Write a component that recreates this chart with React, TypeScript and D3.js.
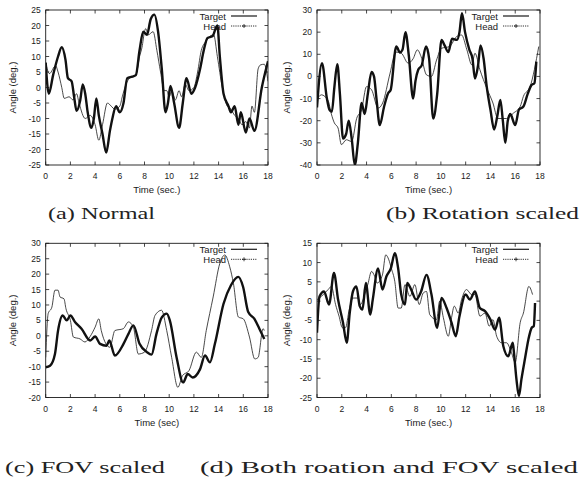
import React from 'react';
import * as d3 from 'd3';

// [time (s), angle (deg)]
const normalTarget: [number, number][] = [
  [0, 8], [0.3, 4.5], [0.8, 7], [1.0, 5], [1.3, 0], [1.5, -3.5], [1.9, -3], [2.2, -4], [2.5, -2], [2.7, -5],
  [3.2, -10], [3.6, -9], [4.0, -12], [4.3, -17], [4.6, -12], [5.0, -5], [5.3, -6], [5.6, -7], [6.0, -6],
  [6.2, -3], [6.5, 1], [6.8, 3], [7.1, 3.5], [7.3, 4], [7.6, 10], [7.8, 13], [8.0, 18], [8.1, 19], [8.3, 17],
  [8.7, 18], [9.0, 12], [9.3, 5], [9.6, -1], [9.8, -1], [10.0, -3], [10.2, -1], [10.5, -4], [10.8, -1],
  [11.0, -3], [11.3, 1], [11.6, -1], [12.0, 0], [12.3, 5], [12.6, 12], [13.0, 15], [13.3, 16.5], [13.6, 17],
  [13.9, 10], [14.3, 0], [14.7, -6], [15.0, -7], [15.3, -9], [15.6, -10], [15.9, -12], [16.2, -11],
  [16.5, -13], [16.7, -6], [16.9, -8], [17.2, 6], [17.4, 7.3], [17.7, 7.5], [18, 2],
];
const normalHead: [number, number][] = [
  [0, 8], [0.25, -2], [0.6, 4], [1.0, 10], [1.3, 13], [1.6, 9], [1.8, 3], [2.1, 2], [2.3, -3], [2.5, -7.5],
  [2.8, -4], [3.0, 1], [3.2, -2], [3.4, -8], [3.7, -13], [3.9, -10], [4.1, -3.5], [4.3, -9], [4.6, -15],
  [4.9, -21], [5.2, -14], [5.4, -10], [5.7, -6], [6.0, -8], [6.3, -5], [6.6, 3], [7.0, 3.5], [7.3, 4],
  [7.6, 12], [7.9, 18], [8.2, 17], [8.5, 22], [8.8, 23.5], [9.1, 18], [9.4, 6], [9.7, -8], [9.9, -5],
  [10.1, 0.5], [10.4, -5], [10.8, -13], [11.1, -5], [11.4, 3], [11.8, -2], [12.1, 0], [12.5, 6], [12.8, 12],
  [13.1, 16], [13.5, 16.5], [13.9, 20], [14.1, 10], [14.4, -2], [14.8, -6], [15.0, -8], [15.3, -6],
  [15.6, -12], [15.8, -8], [16.2, -14.5], [16.5, -10], [16.9, -14], [17.5, 0], [18, 8.5],
];
const rotationTarget: [number, number][] = [
  [0, -10.5], [0.35, -8.3], [0.9, -11], [1.16, -17], [1.4, -21], [1.7, -23.3], [1.97, -30.8], [2.37, -28.6],
  [2.8, -29.4], [3.2, -19], [3.6, -15], [4.0, -4.6], [4.4, -6], [4.93, -14.3], [5.3, -12], [5.9, 1.5],
  [6.36, 11], [6.8, 10.5], [7.36, 6], [7.76, 8], [8.1, 12], [8.4, 9], [8.84, 0.7], [9.24, 0], [9.65, 7.4],
  [10.05, 12.7], [10.7, 13.5], [11.27, 18], [11.67, 18.7], [12.1, 12], [12.5, 5.2], [12.75, 10.5],
  [13.15, 3], [13.7, -5.3], [14.2, -12], [14.6, -19], [15.3, -19], [15.85, -16.6], [16.4, -13.6],
  [16.66, -9], [17.2, -4.6], [17.9, 13.5],
];
const rotationHead: [number, number][] = [
  [0, -14], [0.4, 6], [0.8, -10], [1.0, -15], [1.2, -16], [1.4, -5], [1.64, 5.5], [1.85, -8], [2.1, -28],
  [2.35, -26], [2.56, -20], [2.8, -28], [3.05, -40], [3.3, -30], [3.6, -12], [3.85, -17], [4.1, -8],
  [4.4, 2], [4.6, 0], [4.8, -10], [5.07, -22], [5.4, -14], [5.74, -7.6], [5.95, -6], [6.4, 13.5],
  [6.7, 10.8], [6.9, 12], [7.14, 20], [7.4, 10], [7.76, -10], [7.95, -2], [8.17, 3], [8.45, 5], [8.8, 13.5],
  [9.05, 8], [9.38, -19], [9.7, -8], [10.05, 16.5], [10.3, 14], [10.6, 11], [10.9, 17], [11.3, 16.5],
  [11.5, 20], [11.7, 28.5], [11.95, 20], [12.3, 12], [12.55, 8], [12.75, -1], [13.0, 5], [13.2, 14],
  [13.45, 8], [13.7, -4.6], [14.0, -15], [14.3, -24], [14.55, -18], [14.8, -10.6], [15.0, -20], [15.2, -30],
  [15.4, -20], [15.6, -17], [16.0, -22], [16.3, -15], [16.66, -13.6], [17.0, -8], [17.3, -4], [17.55, -3],
  [17.7, 6.7],
];
const fovTarget: [number, number][] = [
  [0, -7], [0.2, 7.2], [0.5, 9.3], [0.75, 14.8], [1.0, 14.8], [1.16, 12.6], [1.48, 12], [1.64, 8.8], [2.0, 5],
  [2.24, -0.4], [2.78, -1], [3.18, -2], [3.6, -0.2], [4.0, 2.8], [4.3, 5.5], [4.5, 1.7], [4.88, -2.6],
  [5.2, -3.7], [5.6, 1.7], [6.28, 2.3], [6.7, 4.5], [7.1, 2.8], [7.5, -5.9], [8.0, -5.3], [8.57, 1.7],
  [8.85, 6.6], [9.38, 8.3], [9.8, 1.7], [10.2, -7], [10.7, -16.7], [11.08, -12.9], [11.6, -11.3],
  [12.2, -5.3], [12.6, -7], [13.0, 1.7], [13.56, 12.6], [14.1, 23.5], [14.5, 26.2], [14.9, 22.4], [15.2, 17],
  [15.6, 6.1], [16.0, 5.5], [16.5, -0.4], [16.93, -7.5], [17.2, -7], [17.6, 2.3], [17.7, 1.7],
];
const fovHead: [number, number][] = [
  [0, -10.2], [0.35, -9.7], [0.75, -5.9], [1.0, 1.7], [1.37, 6.6], [1.7, 5], [2.0, 6.6], [2.37, 4.5],
  [2.9, 2.3], [3.6, -1.5], [4.0, -0.2], [4.4, -2.6], [4.93, -3.2], [5.15, -1.5], [5.6, -6.4], [6.3, -2.6],
  [6.7, 0.65], [7.1, 3.4], [7.6, -2.6], [8.2, -5.3], [8.57, -6.1], [8.97, 0.65], [9.4, 6], [9.8, 7.2],
  [10.05, 5], [10.6, -7], [11.13, -15.1], [11.5, -12.4], [11.9, -13.5], [12.5, -10.8], [12.9, -6.4],
  [13.3, -8.6], [13.7, -2.6], [14.4, 10.4], [15.0, 16.4], [15.6, 19.1], [15.98, 15.9], [16.4, 7.7],
  [16.9, 5.5], [17.3, 2.3], [17.7, -1],
];
const bothTarget: [number, number][] = [
  [0, 0.4], [0.35, 1.2], [0.62, 2.1], [0.9, 3], [1.16, 3.8], [1.5, -0.9], [1.78, -3.9], [2.05, -6.9],
  [2.3, -6.9], [2.6, -2.2], [2.9, 0.8], [3.3, 0.8], [3.5, -0.9], [3.85, 1.7], [4.1, 4.3], [4.4, 7.7],
  [4.66, 6.4], [4.85, 4.7], [5.28, 6.8], [5.55, 12], [5.8, 10.7], [6.0, 8.5], [6.28, 5.1], [6.55, -1.8],
  [6.8, -1.8], [7.1, 4.3], [7.5, 1.2], [7.9, 4.3], [8.25, -0.9], [8.57, 2.1], [8.84, 2.5], [9.1, -3.5],
  [9.65, -4.8], [9.9, 0], [10.2, -4.3], [10.6, -9.1], [10.86, -4.3], [11.08, -1.3], [11.4, -3.1],
  [11.67, 0.4], [12.07, 3], [12.48, 1.7], [12.75, 1.7], [13.15, -3.9], [13.56, -3.1], [13.9, -6.5],
  [14.2, -4.8], [14.5, -9.1], [14.9, -10.8], [15.3, -10.8], [15.7, -13.4], [16.0, -15.9], [16.4, -5.6],
  [16.66, -3.1], [17.1, 3.8], [17.4, 1.7],
];
const bothHead: [number, number][] = [
  [0, -8.2], [0.2, 1.2], [0.57, 2.5], [0.97, -0.9], [1.37, 7.3], [1.7, 0.4], [2.1, -5.6], [2.4, -10.8],
  [2.64, -3.1], [2.9, 2.5], [3.18, 3.8], [3.45, -1.3], [3.67, -2.2], [3.94, 4.7], [4.3, -3.5], [4.5, 0.4],
  [4.93, 8.5], [5.28, 3], [5.6, 6.4], [5.96, 8.5], [6.28, 12.4], [6.55, 8.5], [6.8, 1.7], [7.1, -0.9],
  [7.28, 4.7], [7.6, 3], [8.0, 0.4], [8.4, 2.5], [8.84, 6.8], [9.24, 1.7], [9.7, -6.9], [10.05, 0.8],
  [10.46, -1.8], [10.86, -5.6], [11.2, -9.1], [11.5, -3.9], [12.0, 1.7], [12.34, 0.4], [12.75, 2.5],
  [13.15, -1.8], [13.56, -2.6], [14.0, -4.8], [14.37, -7.4], [14.7, -4.3], [15.04, -11.7], [15.44, -14.3],
  [15.8, -10.8], [15.9, -13.4], [16.1, -20.3], [16.3, -24.6], [16.5, -20.3], [16.8, -14.7], [17.06, -10],
  [17.33, -6.9], [17.5, -6.5], [17.6, -0.5],
];

const timeTicks = d3.range(0, 19, 2);
const normalTicks = d3.range(-25, 26, 5);
const rotationTicks = d3.range(-40, 31, 10);
const fovTicks = d3.range(-20, 31, 5);
const bothTicks = d3.range(-25, 16, 5);

const captions = ['(a) Normal', '(b) Rotation scaled', '(c) FOV scaled', '(d) Both roation and FOV scaled'];
const xLabels = ['Time (sec.)', 'Time (sec.)', 'Time (sec)', 'Time (sec.)'];

const sans = 'Liberation Sans, Arial, sans-serif';
const ink = '#1a1a1a';

interface PanelProps {
  left: number;
  top: number;
  right: number;
  bottom: number;
  yTicks: number[];
  target: [number, number][];
  head: [number, number][];
  xLabel: string;
  yLabelX: number;
}

const Panel = ({ left, top, right, bottom, yTicks, target, head, xLabel, yLabelX }: PanelProps) => {
  const x = d3.scaleLinear().domain([0, 18]).range([left, right]);
  const y = d3
    .scaleLinear()
    .domain([yTicks[0], yTicks[yTicks.length - 1]])
    .range([bottom, top]);
  const line = d3
    .line<[number, number]>()
    .x((d) => x(d[0]))
    .y((d) => y(d[1]))
    .curve(d3.curveMonotoneX);
  const tk = 3.5;
  const lx = right - 37;
  const ly1 = top + 6;
  const ly2 = top + 16;
  const clipId = `clip-${left}-${top}`;

  return (
    <g>
      <defs>
        <clipPath id={clipId}>
          <rect x={left} y={top} width={right - left} height={bottom - top} />
        </clipPath>
      </defs>
      {timeTicks.map((t) => (
        <g key={`x${t}`}>
          <line x1={x(t)} x2={x(t)} y1={bottom} y2={bottom - tk} stroke={ink} strokeWidth={0.8} />
          <line x1={x(t)} x2={x(t)} y1={top} y2={top + tk} stroke={ink} strokeWidth={0.8} />
          <text x={x(t)} y={bottom + 14} fontSize={8.5} fontFamily={sans} fill={ink} textAnchor="middle">
            {t}
          </text>
        </g>
      ))}
      {yTicks.map((v) => (
        <g key={`y${v}`}>
          <line x1={left} x2={left + tk} y1={y(v)} y2={y(v)} stroke={ink} strokeWidth={0.8} />
          <line x1={right} x2={right - tk} y1={y(v)} y2={y(v)} stroke={ink} strokeWidth={0.8} />
          <text x={left - 5} y={y(v) + 3} fontSize={8.5} fontFamily={sans} fill={ink} textAnchor="end">
            {v}
          </text>
        </g>
      ))}
      <text x={(left + right) / 2} y={bottom + 28} fontSize={9.5} fontFamily={sans} fill={ink} textAnchor="middle">
        {xLabel}
      </text>
      <text
        transform={`translate(${yLabelX},${(top + bottom) / 2}) rotate(-90)`}
        fontSize={9.5}
        fontFamily={sans}
        fill={ink}
        textAnchor="middle"
      >
        Angle (deg.)
      </text>

      {/* key */}
      <text x={lx - 5} y={ly1 + 3.5} fontSize={9.5} fontFamily={sans} fill={ink} textAnchor="end">
        Target
      </text>
      <line x1={lx} x2={lx + 26} y1={ly1} y2={ly1} stroke={ink} strokeWidth={1.2} />
      <text x={lx - 5} y={ly2 + 3.5} fontSize={9.5} fontFamily={sans} fill={ink} textAnchor="end">
        Head
      </text>
      <line x1={lx} x2={lx + 26} y1={ly2} y2={ly2} stroke={ink} strokeWidth={0.9} strokeDasharray="1.2,1" />
      <path d={`M${lx + 11},${ly2}h4M${lx + 13},${ly2 - 2}v4`} stroke={ink} strokeWidth={0.8} />

      <g clipPath={`url(#${clipId})`}>
        <path d={line(target) || ''} fill="none" stroke={ink} strokeWidth={0.8} />
        <path d={line(head) || ''} fill="none" stroke="#111" strokeWidth={2.4} strokeLinejoin="round" />
      </g>
      <rect x={left} y={top} width={right - left} height={bottom - top} fill="none" stroke={ink} strokeWidth={0.9} />
    </g>
  );
};

const Caption = ({ x, y, len, text }: { x: number; y: number; len: number; text: string }) => (
  <text
    x={x}
    y={y}
    fontSize={17}
    fontFamily="Liberation Serif, Times New Roman, serif"
    fill="#222"
    textLength={len}
    lengthAdjust="spacingAndGlyphs"
  >
    {text}
  </text>
);

const App = () => (
  <div style={{ position: 'absolute', left: 0, top: 0 }}>
    <svg width={580} height={482} viewBox="0 0 580 482" style={{ display: 'block', background: '#fff' }}>
      <Panel left={45.7} top={10} right={268} bottom={165} yTicks={normalTicks} target={normalTarget}
        head={normalHead} xLabel={xLabels[0]} yLabelX={16} />
      <Panel left={317} top={10} right={540} bottom={165} yTicks={rotationTicks} target={rotationTarget}
        head={rotationHead} xLabel={xLabels[1]} yLabelX={290} />
      <Panel left={45.7} top={243.3} right={268} bottom={397.5} yTicks={fovTicks} target={fovTarget}
        head={fovHead} xLabel={xLabels[2]} yLabelX={16} />
      <Panel left={317} top={243.3} right={540} bottom={397.5} yTicks={bothTicks} target={bothTarget}
        head={bothHead} xLabel={xLabels[3]} yLabelX={290} />
      <Caption x={48} y={219} len={107} text={captions[0]} />
      <Caption x={386} y={219} len={193} text={captions[1]} />
      <Caption x={5} y={473} len={160} text={captions[2]} />
      <Caption x={200} y={473} len={378} text={captions[3]} />
    </svg>
  </div>
);

export default App;
